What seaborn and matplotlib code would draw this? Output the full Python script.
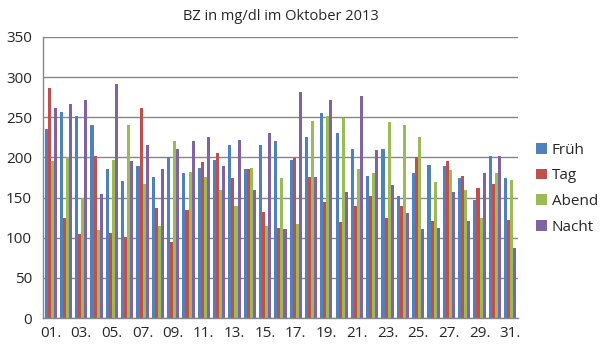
import pandas as pd
import numpy as np
import matplotlib
matplotlib.use('Agg')
import matplotlib.pyplot as plt
import seaborn as sns
from matplotlib.ticker import MultipleLocator

days = [f"{d:02d}." for d in range(1, 32)]
series = ['Früh', 'Tag', 'Abend', 'Nacht']

frueh = [236, 256, 252, 240, 186, 171, 189, 176, 201, 180, 187, 197, 216, 185, 215, 220,
         197, 226, 255, 230, 211, 177, 210, 152, 180, 190, 189, 174, 147, 202, 175]
tag = [286, 124, 105, 202, 106, 101, 261, 137, 95, 135, 194, 205, 174, 185, 132, 112,
       199, 176, 145, 119, 140, 152, 125, 139, 201, 121, 196, 177, 162, 167, 122]
abend = [196, 201, 150, 109, 197, 240, 167, 115, 220, 182, 176, 159, 140, 187, 115, 175,
         117, 245, 251, 249, 186, 180, 244, 240, 226, 169, 184, 159, 125, 181, 172]
nacht = [261, 266, 271, 155, 291, 195, 216, 185, 211, 221, 225, 189, 222, 159, 231, 111,
         281, 176, 271, 157, 276, 209, 166, 131, 111, 112, 157, 121, 181, 202, 87]

colors = ['#4F81BD', '#C0504D', '#9BBB59', '#8064A2']

df = pd.DataFrame({'Tag_Nr': days, 'Früh': frueh, 'Tag': tag, 'Abend': abend, 'Nacht': nacht})
df = df.melt(id_vars='Tag_Nr', var_name='Zeit', value_name='BZ')

sns.set_theme(style='white')
plt.rcParams['font.family'] = ['Open Sans', 'DejaVu Sans']

fig = plt.figure(figsize=(6, 3.51), dpi=100)
ax = fig.add_axes([0.0717, 0.094, 0.7913, 0.8006])

sns.barplot(data=df, x='Tag_Nr', y='BZ', hue='Zeit', hue_order=series,
            palette=colors, width=0.8, errorbar=None, saturation=1,
            edgecolor='none', linewidth=0, ax=ax)

ax.set_ylim(0, 350)
ax.yaxis.set_major_locator(MultipleLocator(50))
ax.set_xlim(-0.5, len(days) - 0.5)
ax.grid(axis='y', color='#878787', linewidth=1)
ax.set_axisbelow(True)

ax.set_xticks(range(len(days)))
ax.set_xticklabels([d if i % 2 == 0 else '' for i, d in enumerate(days)], fontsize=11)
ax.set_xticks(np.arange(-0.5, len(days)), minor=True)
ax.tick_params(axis='x', which='major', length=0, pad=6)
ax.tick_params(axis='x', which='minor', length=5, width=1, color='#878787', direction='out')
ax.tick_params(axis='y', labelsize=11, length=0, pad=8)
ax.set_xlabel('')
ax.set_ylabel('')

for side in ['top', 'right']:
    ax.spines[side].set_visible(False)
for side in ['left', 'bottom']:
    ax.spines[side].set_color('#878787')
    ax.spines[side].set_linewidth(1)

ax.set_title('BZ in mg/dl im Oktober 2013', fontsize=10.5, pad=12)

leg = ax.legend(loc='center left', bbox_to_anchor=(1.01, 0.46), frameon=False,
                fontsize=11, handlelength=0.7, handleheight=0.7,
                handletextpad=0.3, labelspacing=0.7)

fig.savefig('out.png', dpi=100)
